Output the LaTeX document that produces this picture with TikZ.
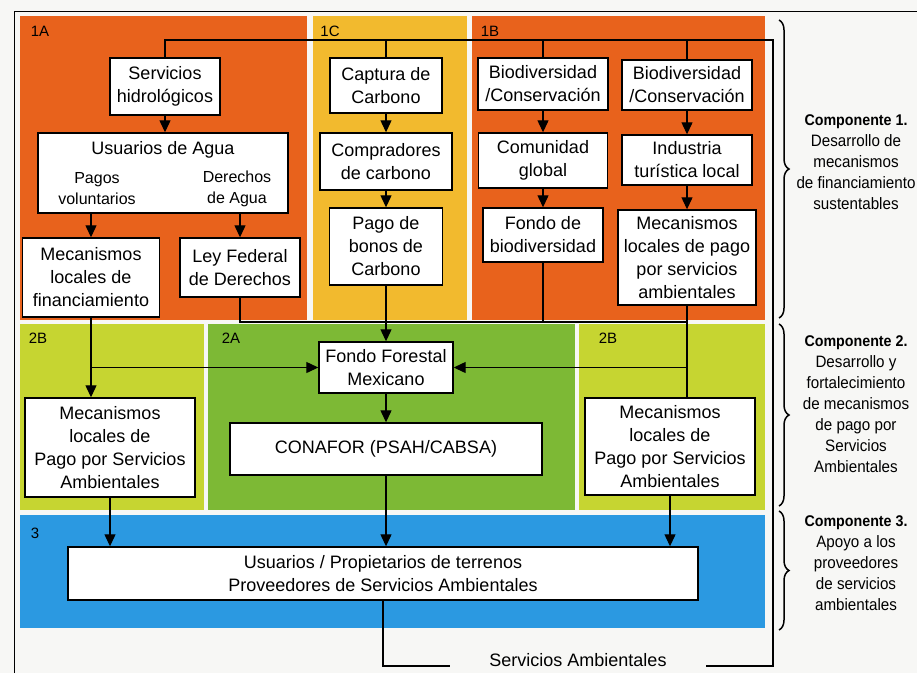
\documentclass[tikz,border=0pt]{standalone}
\usepackage{fontspec}
\setmainfont{Liberation Sans}
\newfontfamily\estrecha[FakeStretch=0.92]{Liberation Sans}
\usepackage{xcolor}
\usetikzlibrary{arrows.meta}
\usetikzlibrary{decorations.pathreplacing}

\definecolor{naranja}{HTML}{E8621C}
\definecolor{amarillo}{HTML}{F2BA2E}
\definecolor{lima}{HTML}{C6D531}
\definecolor{verde}{HTML}{7DB935}
\definecolor{azul}{HTML}{2B99E1}
\definecolor{fondo}{HTML}{F7F7F5}

\begin{document}
\begin{tikzpicture}[x=1pt, y=-1pt,
    every path/.style={line width=1.2pt},
    caja/.style={draw, fill=white, align=center, inner xsep=1pt, inner ysep=2pt,
      line width=1.4pt, font=\fontsize{18}{23}\selectfont},
    zona/.style={font=\fontsize{15}{18}\selectfont},
    sub/.style={align=center, font=\fontsize{16}{21}\selectfont},
    comp/.style={align=center, font=\estrecha\fontsize{16.5}{21}\selectfont},
    flecha/.style={-{Triangle[length=12pt, width=11pt]}},
    llave/.style={decorate, decoration={brace, amplitude=10pt}, line width=1.5pt},
  ]

  % Background and frame
  \useasboundingbox (0,0) rectangle (917,673);
  \fill[fondo] (0,0) rectangle (917,673);
  \draw[line width=1pt] (14,673) -- (14,11) -- (917,11);

  % Zones
  \fill[naranja]  (20,16)   rectangle (307,320);
  \fill[amarillo] (313,16)  rectangle (467,320);
  \fill[naranja]  (472,16)  rectangle (765,320);
  \fill[lima]     (20,324)  rectangle (204,510);
  \fill[verde]    (208,324) rectangle (575,510);
  \fill[lima]     (579,324) rectangle (765,510);
  \fill[azul]     (20,515)  rectangle (765,628);

  \node[zona] (z1a)  at (40,31)   {1A};
  \node[zona] (z1c)  at (330,31)  {1C};
  \node[zona] (z1b)  at (490,31)  {1B};
  \node[zona] (z2bi) at (38,338)  {2B};
  \node[zona] (z2a)  at (231,338) {2A};
  \node[zona] (z2bd) at (608,338) {2B};
  \node[zona] (z3)   at (35,533)  {3};

  % Nodes
  \node[caja, minimum width=110pt, minimum height=57pt]
       (serv)    at (165,86.5)  {Servicios\\hidrológicos};
  \node[caja, minimum width=250pt, minimum height=80pt]
       (usu)     at (163,173)   {};
  \node[font=\fontsize{18}{23}\selectfont]
       (usutit)  at (163,150)   {Usuarios de Agua};
  \node[sub] (pagos)    at (97,188.5)  {Pagos\\voluntarios};
  \node[sub] (derechos) at (237,188.5) {Derechos\\de Agua};
  \node[caja, minimum width=137pt, minimum height=79pt]
       (mecfin)  at (91,277.5)  {Mecanismos\\locales de\\financiamiento};
  \node[caja, minimum width=120pt, minimum height=59pt]
       (ley)     at (240,267.5) {Ley Federal\\de Derechos};

  \node[caja, minimum width=112pt, minimum height=55pt]
       (capt)    at (386,85.5)  {Captura de\\Carbono};
  \node[caja, minimum width=132pt, minimum height=57pt]
       (comp)    at (386,161.5) {Compradores\\de carbono};
  \node[caja, minimum width=113pt, minimum height=77pt]
       (pago)    at (386,246.5) {Pago de\\bonos de\\Carbono};

  \node[caja, minimum width=130pt, minimum height=52pt]
       (bio1)    at (543,84)    {Biodiversidad\\/Conservación};
  \node[caja, minimum width=129pt, minimum height=55pt]
       (comun)   at (543,160.5) {Comunidad\\global};
  \node[caja, minimum width=120pt, minimum height=54pt]
       (fondob)  at (543,235)   {Fondo de\\biodiversidad};

  \node[caja, minimum width=130pt, minimum height=50pt]
       (bio2)    at (687,85)    {Biodiversidad\\/Conservación};
  \node[caja, minimum width=130pt, minimum height=50pt]
       (indus)   at (687,160)   {Industria\\turística local};
  \node[caja, minimum width=138pt, minimum height=95pt]
       (mecpago) at (687,257.5) {Mecanismos\\locales de pago\\por servicios\\ambientales};

  \node[caja, minimum width=134pt, minimum height=51pt]
       (ffm)     at (386,367.5) {Fondo Forestal\\Mexicano};
  \node[caja, minimum width=312pt, minimum height=52pt]
       (conafor) at (386,449)   {CONAFOR (PSAH/CABSA)};
  \node[caja, minimum width=170pt, minimum height=99pt]
       (mecL)    at (110,447.5) {Mecanismos\\locales de\\Pago por Servicios\\Ambientales};
  \node[caja, minimum width=170pt, minimum height=97pt]
       (mecR)    at (670,446.5) {Mecanismos\\locales de\\Pago por Servicios\\Ambientales};

  \node[caja, minimum width=630pt, minimum height=53pt]
       (usuprop) at (383,573.5) {Usuarios / Propietarios de terrenos\\Proveedores de Servicios Ambientales};
  \node[anchor=base, inner xsep=39pt, font=\fontsize{18}{22}\selectfont]
       (servamb) at (578,666)   {Servicios Ambientales};

  % Loop of environmental services
  \coordinate (esq) at (773,40);
  \draw (usuprop.south) |- (servamb.base west);
  \draw (servamb.base east) -| (esq) -| (serv.north);
  \draw (capt.north |- esq) -- (capt.north);
  \draw (bio1.north |- esq) -- (bio1.north);
  \draw (bio2.north |- esq) -- (bio2.north);

  % Component 1 arrows
  \draw[flecha] (serv.south) -- (serv.south |- usu.north);
  \draw[flecha] (mecfin.north |- usu.south) -- (mecfin.north);
  \draw[flecha] (ley.north |- usu.south) -- (ley.north);
  \draw[flecha] (capt) -- (comp);
  \draw[flecha] (comp) -- (pago);
  \draw[flecha] (bio1) -- (comun);
  \draw[flecha] (comun) -- (fondob);
  \draw[flecha] (bio2) -- (indus);
  \draw[flecha] (indus) -- (mecpago);

  % Into the Fondo Forestal
  \coordinate (bus) at (0,322);
  \draw (ley.south) |- (mecpago.south |- bus);
  \draw (fondob.south) -- (fondob.south |- bus);
  \draw[flecha] (pago.south) -- (ffm.north);
  \draw (mecpago.south) -- (mecpago.south |- mecR.north);
  \draw[flecha] (mecpago.south |- ffm.east) -- (ffm.east);
  \draw[flecha] (mecfin.south) -- (mecfin.south |- mecL.north);
  \draw[flecha] (mecfin.south |- ffm.west) -- (ffm.west);
  \draw[flecha] (ffm) -- (conafor);

  % Into the providers
  \draw[flecha] (mecL.south) -- (mecL.south |- usuprop.north);
  \draw[flecha] (conafor.south) -- (conafor.south |- usuprop.north);
  \draw[flecha] (mecR.south) -- (mecR.south |- usuprop.north);

  % Components
  \draw[llave] (779,20) -- (779,318);
  \draw[llave] (779,324) -- (779,506);
  \draw[llave] (779,511) -- (779,630);

  \node[comp] (comp1) at (856,162)
    {{\fontsize{15.5}{21}\selectfont\bfseries Componente 1.}\\Desarrollo de\\mecanismos\\de financiamiento\\sustentables};
  \node[comp] (comp2) at (856,404)
    {{\fontsize{15.5}{21}\selectfont\bfseries Componente 2.}\\Desarrollo y\\fortalecimiento\\de mecanismos\\de pago por\\Servicios\\Ambientales};
  \node[comp] (comp3) at (856,563)
    {{\fontsize{15.5}{21}\selectfont\bfseries Componente 3.}\\Apoyo a los\\proveedores\\de servicios\\ambientales};

\end{tikzpicture}
\end{document}
